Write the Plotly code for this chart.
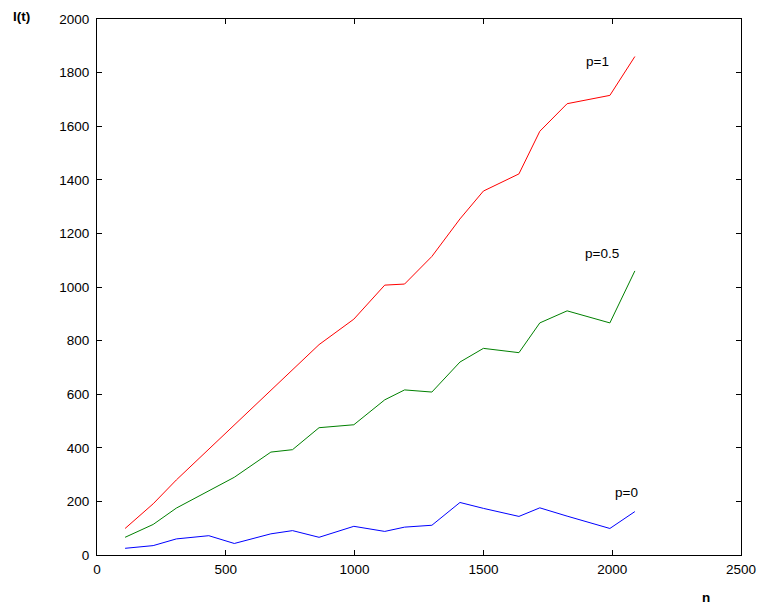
import plotly.graph_objects as go

# network size n at each sample
n = [109, 218, 308, 434, 533, 675, 759, 862, 997, 1117, 1194, 1300,
     1409, 1500, 1638, 1719, 1825, 1991, 2088]

# I(t) for each rewiring probability p
i_p1 = [99, 191, 280, 395, 487, 616, 694, 785, 880, 1007, 1011, 1114,
        1254, 1358, 1422, 1581, 1684, 1715, 1860]
i_p05 = [66, 114, 175, 239, 290, 384, 393, 475, 486, 579, 616, 608,
         720, 771, 755, 866, 911, 866, 1060]
i_p0 = [25, 35, 60, 72, 43, 79, 91, 66, 107, 88, 104, 111,
        196, 174, 144, 176, 145, 99, 162]

series = [
    ("p=1", i_p1, "#ff0000", (1944, 1841)),
    ("p=0.5", i_p05, "#008000", (1959, 1124)),
    ("p=0", i_p0, "#0000ff", (2056, 232)),
]

font_family = "Liberation Sans, Arial, sans-serif"
fsize = 13.5

fig = go.Figure()
annotations = []
for name, vals, color, (lx, ly) in series:
    fig.add_trace(go.Scatter(x=n, y=vals, mode="lines", name=name,
                             line=dict(color=color, width=1)))
    annotations.append(dict(x=lx, y=ly, xref="x", yref="y", text=name,
                            showarrow=False, xanchor="center", yanchor="middle",
                            font=dict(family=font_family, size=fsize, color="#000")))

# axis titles placed outside the plotting area
annotations.append(dict(x=-0.118, y=1.004, xref="paper", yref="paper",
                        text="<b>I(t)</b>", showarrow=False,
                        xanchor="center", yanchor="middle",
                        font=dict(family=font_family, size=fsize, color="#000")))
annotations.append(dict(x=0.946, y=-0.08, xref="paper", yref="paper",
                        text="<b>n</b>", showarrow=False,
                        xanchor="center", yanchor="middle",
                        font=dict(family=font_family, size=fsize, color="#000")))

axis_common = dict(
    showgrid=False, zeroline=False, showline=True, linecolor="#000",
    linewidth=1, mirror="ticks", ticks="inside", ticklen=5,
    tickcolor="#000", tickfont=dict(family=font_family, size=fsize, color="#000"),
)

fig.update_layout(
    width=768, height=606,
    margin=dict(l=97, r=24, t=19, b=51),
    paper_bgcolor="white", plot_bgcolor="white",
    showlegend=False,
    annotations=annotations,
    xaxis=dict(range=[0, 2500], dtick=500, ticklabelstandoff=2, **axis_common),
    yaxis=dict(range=[0, 2000], dtick=200, ticklabelstandoff=4, **axis_common),
)

fig.write_html("out.html")
